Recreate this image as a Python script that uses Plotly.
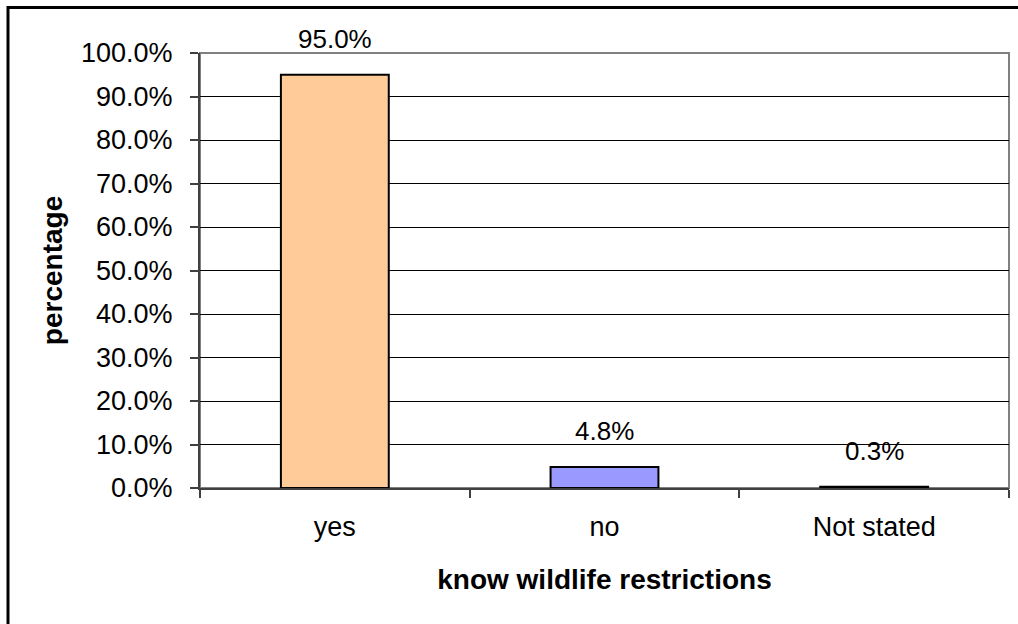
import plotly.graph_objects as go

categories = ["yes", "no", "Not stated"]
values = [95.0, 4.8, 0.3]
bar_colors = ["#FFCC99", "#9999FF", "#000000"]
y_ticks = [0, 10, 20, 30, 40, 50, 60, 70, 80, 90, 100]
y_tick_labels = [f"{v:.1f}%" for v in y_ticks]

W, H = 1018, 624
L, R, T, B = 200, 9, 53, 136
FONT = "Liberation Sans, Arial, sans-serif"

fig = go.Figure()
fig.add_trace(go.Bar(
    x=categories, y=values,
    marker=dict(color=bar_colors, line=dict(color="#000000", width=2)),
    hoverinfo="x+y",
))

for c, v in zip(categories, values):
    fig.add_annotation(x=c, y=v, text=f"{v:.1f}%", showarrow=False,
                       yanchor="bottom", yshift=19,
                       font=dict(family=FONT, size=26, color="#000000"))

pw = W - L - R
ph = H - T - B
bx = (8 - L) / pw
by = 1 + (T - 7.5) / ph
fig.add_shape(type="rect", xref="paper", yref="paper",
              x0=bx, y0=-1.0, x1=1.2, y1=by,
              line=dict(color="#000000", width=3), fillcolor="rgba(0,0,0,0)",
              layer="above")
# plot-area frame
fig.add_shape(type="rect", xref="paper", yref="paper",
              x0=0, y0=0, x1=1, y1=1,
              line=dict(color="#808080", width=2), fillcolor="rgba(0,0,0,0)",
              layer="below")

fig.update_layout(
    width=W, height=H,
    margin=dict(l=L, r=R, t=T, b=B, pad=0),
    paper_bgcolor="#FFFFFF", plot_bgcolor="#FFFFFF",
    bargap=0.6,
    showlegend=False,
    font=dict(family=FONT, size=26, color="#000000"),
    xaxis=dict(
        showline=True, linecolor="#404040", linewidth=2,
        ticks="outside", tickson="boundaries", ticklen=8, tickcolor="#404040", tickwidth=2,
        showgrid=False, ticklabelstandoff=14,
        tickfont=dict(family=FONT, size=27, color="#000000"),
        title=dict(text="<b>know wildlife restrictions</b>", standoff=28,
                   font=dict(family=FONT, size=28, color="#000000")),
    ),
    yaxis=dict(
        range=[0, 100], tickvals=y_ticks, ticktext=y_tick_labels,
        showline=True, linecolor="#404040", linewidth=2,
        ticks="outside", ticklen=8, tickcolor="#404040", tickwidth=2,
        showgrid=True, gridcolor="#000000", gridwidth=1,
        zeroline=False, ticklabelstandoff=12,
        tickfont=dict(family=FONT, size=27, color="#000000"),
        title=dict(text="<b>percentage</b>", standoff=10,
                   font=dict(family=FONT, size=28, color="#000000")),
    ),
)

fig.write_html("out.html")
